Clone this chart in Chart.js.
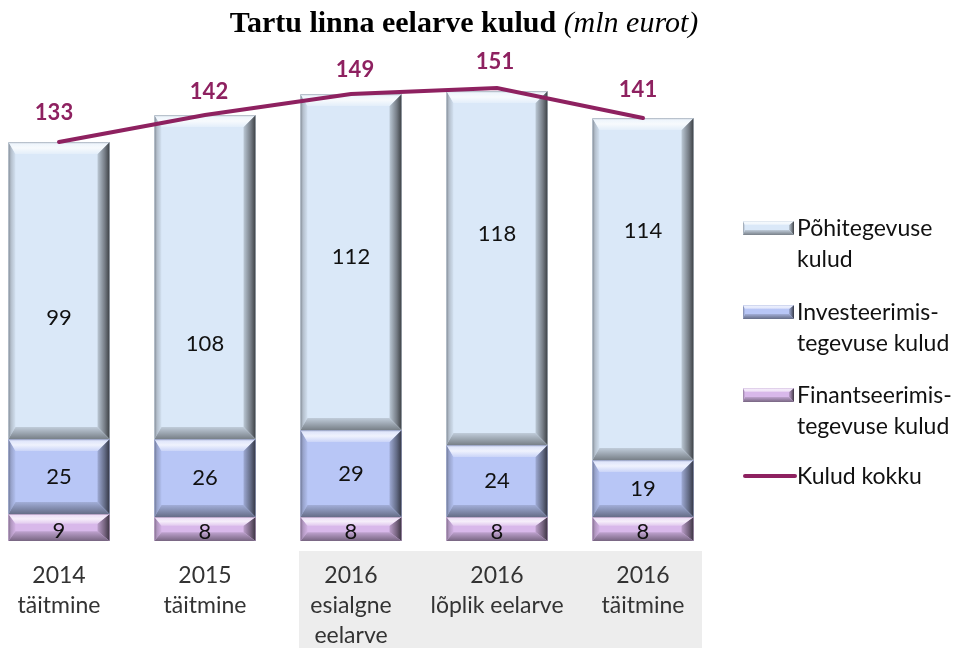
<!DOCTYPE html>
<html><head><meta charset="utf-8">
<script src="https://cdn.jsdelivr.net/npm/chart.js@4"></script>
<style>
html,body{margin:0;padding:0;background:#fff;overflow:hidden;width:958px;height:648px}
#wrap{position:relative;width:958px;height:648px;overflow:hidden;background:#fff}
#c{position:absolute;left:-14px;top:0}
</style></head><body>
<div id="wrap"><canvas id="c" width="972" height="648"></canvas></div>
<script>
// ---- data ----
const categories = [["2014","täitmine"],["2015","täitmine"],["2016","esialgne","eelarve"],["2016","lõplik eelarve"],["2016","täitmine"]];
const finants = [9,8,8,8,8];
const invest = [25,26,29,24,19];
const pohi = [99,108,112,118,114];
const kokku = [133,142,149,151,141];
const seriesNames = ["Finantseerimistegevuse kulud","Investeerimistegevuse kulud","Põhitegevuse kulud","Kulud kokku"];
const legendLabels = [["Põhitegevuse","kulud"],["Investeerimis-","tegevuse kulud"],["Finantseerimis-","tegevuse kulud"],["Kulud kokku"]];
const titleBold = "Tartu linna eelarve kulud";
const titleItalic = "(mln eurot)";

// ---- style ----
const OFF = 14; // canvas is shifted 14px left of page
const faces = {finants:'#D8B8EA', invest:'#B8C6F6', pohi:'#DAE8F8'};
const lineColor = '#8E2160';
const FONT = 'Lato, "Open Sans", sans-serif';
const pohiLabelShift = [27, 67, -5, -34, -58];   // px, manual label placement as in the original
const totalLabelDX = [-5, 4, 4, -2, -5];
const totalLabelDY = [-29, -23, -24, -26, -28];

function hex2rgb(h){h=h.replace('#','');return [parseInt(h.substr(0,2),16),parseInt(h.substr(2,2),16),parseInt(h.substr(4,2),16)];}
function mix(a,b,t){const A=hex2rgb(a),B=hex2rgb(b);return 'rgb('+A.map((v,i)=>Math.round(v+(B[i]-v)*t)).join(',')+')';}

function bevel(ctx,x0,y0,x1,y1,face,bt,br,bb,bl){
  const h=y1-y0, w=x1-x0;
  bt=Math.min(bt,h*0.36); bb=Math.min(bb,h*0.36);
  br=Math.min(br,w*0.3); bl=Math.min(bl,w*0.3);
  ctx.save();
  ctx.fillStyle=face; ctx.fillRect(x0,y0,w,h);
  // left
  let g=ctx.createLinearGradient(x0,0,x0+bl,0);
  g.addColorStop(0,mix(face,'#000000',0.40)); g.addColorStop(0.35,mix(face,'#000000',0.18)); g.addColorStop(1,mix(face,'#000000',0.03));
  ctx.fillStyle=g; ctx.beginPath(); ctx.moveTo(x0,y0); ctx.lineTo(x0+bl,y0+bt); ctx.lineTo(x0+bl,y1-bb); ctx.lineTo(x0,y1); ctx.closePath(); ctx.fill();
  // right
  g=ctx.createLinearGradient(x1-br,0,x1,0);
  g.addColorStop(0,mix(face,'#000000',0.14)); g.addColorStop(0.6,mix(face,'#000000',0.46)); g.addColorStop(1,mix(face,'#000000',0.72));
  ctx.fillStyle=g; ctx.beginPath(); ctx.moveTo(x1,y0); ctx.lineTo(x1,y1); ctx.lineTo(x1-br,y1-bb); ctx.lineTo(x1-br,y0+bt); ctx.closePath(); ctx.fill();
  // bottom
  g=ctx.createLinearGradient(0,y1-bb,0,y1);
  g.addColorStop(0,mix(face,'#000000',0.12)); g.addColorStop(1,mix(face,'#000000',0.45));
  ctx.fillStyle=g; ctx.beginPath(); ctx.moveTo(x0,y1); ctx.lineTo(x1,y1); ctx.lineTo(x1-br,y1-bb); ctx.lineTo(x0+bl,y1-bb); ctx.closePath(); ctx.fill();
  // top
  g=ctx.createLinearGradient(0,y0,0,y0+bt);
  g.addColorStop(0,mix(face,'#000000',0.25)); g.addColorStop(0.15,mix(face,'#ffffff',0.55)); g.addColorStop(0.5,mix(face,'#ffffff',0.78)); g.addColorStop(1,mix(face,'#ffffff',0.25));
  ctx.fillStyle=g; ctx.beginPath(); ctx.moveTo(x0,y0); ctx.lineTo(x1,y0); ctx.lineTo(x1-br,y0+bt); ctx.lineTo(x0+bl,y0+bt); ctx.closePath(); ctx.fill();
  ctx.restore();
}

const decor = {
  id:'decor',
  beforeDraw(chart){
    const ctx=chart.ctx, xs=chart.scales.x, ca=chart.chartArea;
    ctx.save();
    // grey band behind the 2016 labels
    const l=xs.getPixelForValue(2)-52, r=xs.getPixelForValue(4)+59;
    ctx.fillStyle='#EDEDED'; ctx.fillRect(l,ca.bottom+10,r-l,648-(ca.bottom+10));
    // title
    ctx.fillStyle='#000'; ctx.textBaseline='alphabetic';
    const fb='bold 30px "Liberation Serif", "Times New Roman", serif';
    const fi='italic 30px "Liberation Serif", "Times New Roman", serif';
    ctx.font=fb; const wb=ctx.measureText(titleBold+' ').width;
    ctx.font=fi; const wi=ctx.measureText(titleItalic).width;
    let sx=464+OFF-(wb+wi)/2;
    ctx.font=fb; ctx.fillText(titleBold+' ',sx,32);
    ctx.font=fi; ctx.fillText(titleItalic,sx+wb,32);
    ctx.restore();
  },
  afterDatasetDraw(chart,args){
    const ds=chart.data.datasets[args.index];
    if(ds.type==='line') return;
    const ctx=chart.ctx;
    args.meta.data.forEach(el=>{
      const p=el.getProps(['x','y','base','width'],true);
      bevel(ctx,p.x-p.width/2,Math.min(p.y,p.base),p.x+p.width/2,Math.max(p.y,p.base),ds.backgroundColor,12,12,12,7);
    });
  },
  afterDatasetsDraw(chart){
    const ctx=chart.ctx, xs=chart.scales.x, ca=chart.chartArea;
    ctx.save();
    ctx.textAlign='center'; ctx.textBaseline='middle';
    // segment labels
    ctx.font='22px '+FONT; ctx.fillStyle='#111';
    [0,1,2].forEach(di=>{
      const meta=chart.getDatasetMeta(di), vals=chart.data.datasets[di].data;
      meta.data.forEach((el,i)=>{
        const p=el.getProps(['x','y','base'],true);
        let y=(p.y+p.base)/2 + (di===0?3:0) + (di===2?pohiLabelShift[i]:0);
        ctx.fillText(String(vals[i]),p.x,y);
      });
    });
    // total labels
    ctx.font='bold 22px '+FONT; ctx.fillStyle=lineColor;
    chart.getDatasetMeta(3).data.forEach((pt,i)=>{
      ctx.fillText(String(kokku[i]),pt.x+totalLabelDX[i],pt.y+totalLabelDY[i]);
    });
    // category labels
    ctx.font='23px '+FONT; ctx.fillStyle='#333';
    categories.forEach((lines,i)=>{
      const x=xs.getPixelForValue(i);
      lines.forEach((t,k)=>ctx.fillText(t,x,ca.bottom+35+k*30));
    });
    // legend
    const mx0=743+OFF, mx1=794+OFF, tx=797+OFF;
    const items=[{face:faces.pohi,y:228},{face:faces.invest,y:312},{face:faces.finants,y:395},{line:true,y:476}];
    ctx.textAlign='left'; ctx.font='23px '+FONT;
    items.forEach((it,k)=>{
      if(it.line){
        ctx.strokeStyle=lineColor; ctx.lineWidth=4; ctx.lineCap='round';
        ctx.beginPath(); ctx.moveTo(mx0+2,it.y); ctx.lineTo(mx1+1,it.y); ctx.stroke();
      } else {
        bevel(ctx,mx0,it.y-7,mx1,it.y+7,it.face,4,5,5,2);
      }
      ctx.fillStyle='#111';
      legendLabels[k].forEach((t,j)=>ctx.fillText(t,tx,it.y+1+j*31));
    });
    ctx.restore();
  }
};

new Chart(document.getElementById('c'),{
  type:'bar',
  data:{labels:categories,datasets:[
    {label:seriesNames[0],data:finants,backgroundColor:faces.finants,stack:'s',order:2,borderWidth:0},
    {label:seriesNames[1],data:invest,backgroundColor:faces.invest,stack:'s',order:2,borderWidth:0},
    {label:seriesNames[2],data:pohi,backgroundColor:faces.pohi,stack:'s',order:2,borderWidth:0},
    {type:'line',label:seriesNames[3],data:kokku,borderColor:lineColor,borderWidth:4,pointRadius:0,tension:0,fill:false,order:0,stack:'total',borderCapStyle:'round'}
  ]},
  options:{
    responsive:false, animation:false, devicePixelRatio:1,
    layout:{padding:{left:0,right:242,top:61,bottom:107}},
    plugins:{legend:{display:false},title:{display:false},tooltip:{enabled:false}},
    datasets:{bar:{categoryPercentage:1,barPercentage:0.692}},
    scales:{
      x:{stacked:true,display:false},
      y:{stacked:true,display:false,min:0,max:160}
    }
  },
  plugins:[decor]
});
</script>
</body></html>
